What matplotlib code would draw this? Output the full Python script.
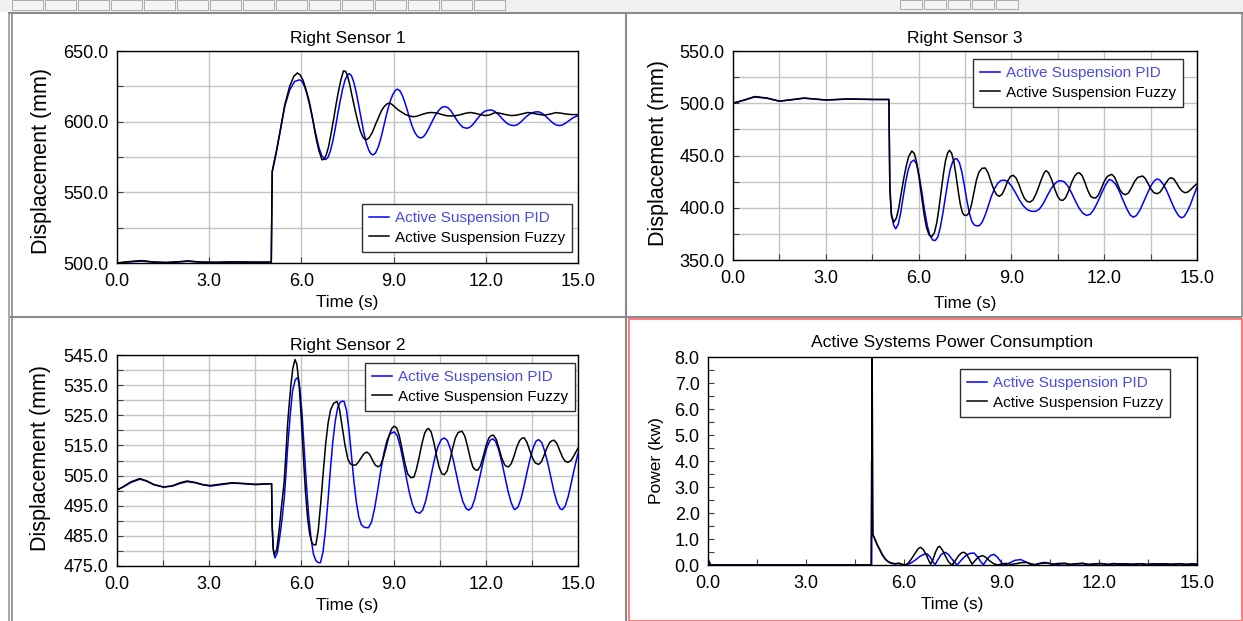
import matplotlib
matplotlib.use('Agg')
import matplotlib.pyplot as plt
from matplotlib.lines import Line2D
from matplotlib.patches import Rectangle
from matplotlib.ticker import MultipleLocator, FormatStrFormatter

# ---------------- data (time s, value) ----------------
labels = ["Active Suspension PID", "Active Suspension Fuzzy"]
titles = ["Right Sensor 1", "Right Sensor 3", "Right Sensor 2", "Active Systems Power Consumption"]

rs1_pid = [(0.0, 500.0), (0.4, 500.8), (0.8, 501.4), (1.2, 500.6), (1.6, 500.3), (2.0, 500.7), (2.3, 501.5),
           (2.7, 500.6), (3.2, 500.4), (3.8, 500.7), (4.4, 500.6), (5.02, 500.6), (5.05, 564.0), (5.19, 579.0),
           (5.30, 592.0), (5.46, 611.0), (5.62, 622.5), (5.78, 628.5), (5.94, 629.6), (6.02, 628.5), (6.10, 625.0),
           (6.18, 619.5), (6.26, 612.5), (6.34, 604.5), (6.42, 596.0), (6.50, 588.0), (6.58, 581.0), (6.66, 576.0),
           (6.78, 573.2), (6.86, 574.5), (6.94, 579.0), (7.02, 586.0), (7.10, 595.0), (7.18, 605.0), (7.26, 614.5),
           (7.34, 623.0), (7.42, 629.5), (7.50, 633.0), (7.56, 634.0), (7.63, 632.5), (7.71, 627.5), (7.79, 620.0),
           (7.87, 611.0), (7.95, 601.5), (8.03, 592.5), (8.11, 585.0), (8.19, 580.0), (8.26, 577.3), (8.33, 576.5),
           (8.41, 577.8), (8.49, 581.5), (8.57, 587.0), (8.65, 594.0), (8.73, 601.5), (8.81, 608.5), (8.89, 614.5),
           (8.97, 619.0), (9.05, 622.0), (9.12, 623.0), (9.20, 622.0), (9.28, 618.8), (9.36, 614.0), (9.44, 608.5),
           (9.52, 602.5), (9.60, 597.0), (9.68, 592.8), (9.76, 590.0), (9.83, 588.8), (9.89, 588.5), (9.97, 589.3),
           (10.05, 591.5), (10.15, 595.5), (10.25, 600.0), (10.35, 604.2), (10.45, 607.5), (10.55, 609.8),
           (10.62, 610.5), (10.68, 610.6), (10.76, 610.0), (10.86, 607.8), (10.96, 604.5), (11.06, 601.0),
           (11.16, 598.0), (11.26, 596.0), (11.38, 595.3), (11.48, 596.0), (11.58, 598.0), (11.68, 600.8),
           (11.78, 603.5), (11.88, 606.0), (11.98, 607.5), (12.08, 608.1), (12.19, 608.2), (12.29, 607.3),
           (12.39, 605.5), (12.49, 603.2), (12.59, 600.8), (12.69, 598.8), (12.80, 597.6), (12.92, 597.2),
           (13.02, 597.8), (13.12, 599.4), (13.22, 601.5), (13.32, 603.6), (13.42, 605.3), (13.52, 606.4),
           (13.62, 606.9), (13.70, 607.0), (13.80, 606.3), (13.90, 604.8), (14.00, 602.8), (14.10, 600.7),
           (14.20, 598.8), (14.30, 597.6), (14.40, 597.2), (14.50, 597.7), (14.60, 599.0), (14.70, 600.6),
           (14.80, 602.2), (14.90, 603.4), (15.00, 604.2)]

rs1_fuzzy = [(0.0, 500.0), (0.4, 501.0), (0.8, 501.7), (1.2, 500.7), (1.6, 500.4), (2.0, 500.9), (2.3, 501.3),
             (2.7, 500.7), (3.2, 500.5), (3.8, 500.8), (4.4, 500.6), (5.02, 500.6), (5.05, 565.0), (5.19, 579.5),
             (5.30, 592.5), (5.46, 612.0), (5.62, 625.0), (5.75, 632.0), (5.87, 634.5), (5.96, 633.0),
             (6.05, 629.5), (6.16, 622.0), (6.26, 614.0), (6.35, 604.0), (6.43, 594.0), (6.50, 586.0),
             (6.57, 579.5), (6.67, 573.0), (6.74, 573.5), (6.80, 576.0), (6.88, 582.0), (6.96, 591.0),
             (7.05, 602.0), (7.13, 612.5), (7.21, 622.0), (7.29, 630.0), (7.37, 636.0), (7.44, 635.5),
             (7.50, 632.5), (7.58, 625.5), (7.66, 617.0), (7.75, 608.0), (7.83, 600.5), (7.91, 594.0),
             (7.99, 589.5), (8.06, 587.5), (8.12, 587.3), (8.20, 588.5), (8.31, 592.5), (8.42, 598.5),
             (8.53, 604.0), (8.61, 608.0), (8.69, 610.6), (8.78, 612.5), (8.87, 613.2), (8.96, 612.0),
             (9.06, 610.0), (9.17, 608.0), (9.28, 606.5), (9.39, 605.0), (9.50, 604.2), (9.62, 603.5),
             (9.75, 603.8), (9.88, 604.8), (9.98, 605.5), (10.10, 606.2), (10.22, 606.5), (10.34, 606.3),
             (10.46, 605.8), (10.58, 605.0), (10.70, 604.3), (10.85, 604.0), (11.00, 604.2), (11.15, 604.8),
             (11.33, 605.9), (11.50, 606.5), (11.66, 605.9), (11.82, 605.0), (11.97, 604.3), (12.13, 604.8),
             (12.30, 606.4), (12.45, 606.0), (12.60, 605.2), (12.83, 604.3), (13.00, 604.6), (13.18, 605.5),
             (13.37, 606.5), (13.52, 606.0), (13.70, 605.2), (13.91, 604.6), (14.10, 605.4), (14.28, 606.4),
             (14.45, 606.0), (14.61, 605.4), (14.80, 605.0), (15.00, 605.0)]

rs3_pid = [(0.0, 500.0), (0.35, 502.8), (0.7, 506.0), (1.1, 504.8), (1.5, 502.0), (1.9, 503.3), (2.3, 504.8),
           (2.65, 504.0), (3.0, 503.0), (3.35, 503.5), (3.7, 504.0), (4.2, 503.8), (4.6, 503.6), (5.04, 503.6),
           (5.07, 420.0), (5.12, 395.0), (5.19, 383.5), (5.26, 379.9), (5.34, 384.0), (5.42, 395.0), (5.50, 410.0),
           (5.58, 424.5), (5.66, 436.0), (5.75, 443.5), (5.85, 445.7), (5.93, 442.0), (6.01, 432.0), (6.10, 416.0),
           (6.19, 398.0), (6.28, 383.0), (6.37, 373.0), (6.46, 369.0), (6.54, 368.7), (6.62, 372.0), (6.70, 381.0),
           (6.78, 394.0), (6.86, 409.0), (6.94, 424.0), (7.02, 436.5), (7.10, 444.0), (7.18, 446.8), (7.24, 446.8),
           (7.32, 443.0), (7.40, 434.0), (7.48, 421.0), (7.56, 407.0), (7.64, 395.0), (7.72, 387.0), (7.80, 383.5),
           (7.88, 382.6), (7.97, 383.0), (8.06, 386.5), (8.16, 393.5), (8.26, 402.5), (8.36, 411.5), (8.46, 418.5),
           (8.56, 423.5), (8.66, 426.0), (8.77, 426.5), (8.88, 425.0), (9.00, 421.0), (9.12, 415.0), (9.25, 408.0),
           (9.38, 402.0), (9.50, 398.5), (9.63, 396.7), (9.77, 396.5), (9.90, 398.5), (10.03, 404.0),
           (10.16, 411.5), (10.29, 418.5), (10.42, 423.5), (10.52, 425.5), (10.60, 425.9), (10.70, 425.0),
           (10.82, 421.0), (10.94, 414.5), (11.06, 407.0), (11.18, 400.0), (11.30, 395.0), (11.43, 392.6),
           (11.55, 393.8), (11.67, 398.5), (11.79, 405.5), (11.91, 413.5), (12.03, 421.0), (12.12, 425.5),
           (12.17, 427.0), (12.26, 426.0), (12.38, 422.0), (12.50, 415.0), (12.62, 406.5), (12.74, 398.5),
           (12.84, 393.0), (12.94, 391.0), (13.04, 392.5), (13.16, 398.0), (13.28, 406.0), (13.40, 414.0),
           (13.52, 421.5), (13.62, 425.8), (13.71, 427.6), (13.80, 426.5), (13.92, 422.0), (14.04, 415.0),
           (14.16, 406.5), (14.28, 398.5), (14.40, 392.5), (14.49, 390.4), (14.58, 391.5), (14.68, 396.0),
           (14.78, 402.5), (14.88, 410.5), (15.00, 419.8)]

rs3_fuzzy = [(0.0, 500.0), (0.35, 503.0), (0.7, 506.4), (1.1, 505.0), (1.5, 502.0), (1.9, 503.5), (2.3, 505.0),
             (2.65, 504.0), (3.0, 503.2), (3.35, 503.6), (3.7, 504.2), (4.2, 503.8), (4.6, 503.6), (5.04, 503.6),
             (5.07, 420.0), (5.12, 392.0), (5.20, 386.3), (5.28, 390.0), (5.36, 400.0), (5.44, 414.0),
             (5.52, 428.0), (5.60, 440.0), (5.68, 449.0), (5.78, 454.3), (5.86, 452.0), (5.94, 443.0),
             (6.02, 428.0), (6.10, 410.0), (6.18, 393.0), (6.26, 380.5), (6.34, 374.0), (6.43, 372.5),
             (6.51, 376.0), (6.59, 386.0), (6.66, 400.0), (6.73, 416.0), (6.80, 432.0), (6.87, 445.0),
             (6.94, 452.5), (7.00, 455.0), (7.07, 452.0), (7.14, 444.0), (7.21, 431.0), (7.28, 416.0),
             (7.35, 403.0), (7.42, 395.0), (7.48, 392.8), (7.55, 392.6), (7.63, 395.0), (7.71, 403.0),
             (7.79, 415.0), (7.87, 426.5), (7.95, 434.0), (8.05, 437.8), (8.16, 438.0), (8.25, 433.0),
             (8.34, 425.0), (8.43, 417.5), (8.52, 412.5), (8.61, 410.9), (8.70, 413.0), (8.79, 418.5),
             (8.88, 425.5), (8.97, 430.0), (9.06, 431.0), (9.15, 428.5), (9.24, 422.5), (9.33, 415.0),
             (9.42, 409.0), (9.51, 406.0), (9.60, 405.4), (9.70, 407.5), (9.80, 413.5), (9.90, 421.5),
             (10.00, 429.5), (10.06, 433.5), (10.12, 435.5), (10.20, 433.5), (10.30, 427.0), (10.40, 418.0),
             (10.50, 410.5), (10.58, 407.5), (10.66, 407.0), (10.75, 409.5), (10.85, 416.0), (10.95, 424.5),
             (11.05, 430.5), (11.13, 433.0), (11.20, 433.5), (11.29, 430.5), (11.38, 424.0), (11.47, 416.5),
             (11.56, 411.0), (11.64, 409.5), (11.72, 409.3), (11.81, 412.0), (11.90, 418.0), (12.00, 425.0),
             (12.10, 430.0), (12.24, 432.0), (12.33, 429.5), (12.42, 423.5), (12.51, 417.0), (12.60, 413.5),
             (12.69, 412.5), (12.78, 414.0), (12.88, 419.0), (12.98, 425.0), (13.08, 429.0), (13.24, 430.4),
             (13.33, 428.0), (13.42, 423.0), (13.51, 418.0), (13.60, 414.5), (13.71, 413.4), (13.80, 414.8),
             (13.90, 419.0), (14.00, 424.0), (14.08, 427.3), (14.16, 428.8), (14.25, 427.5), (14.34, 423.5),
             (14.43, 419.0), (14.52, 415.8), (14.61, 414.4), (14.70, 415.0), (14.80, 417.5), (14.90, 420.5),
             (15.00, 423.0)]

rs2_pid = [(0.0, 500.2), (0.2, 501.2), (0.45, 502.7), (0.74, 503.8), (0.95, 503.2), (1.2, 502.0), (1.51, 501.2),
           (1.8, 501.5), (2.05, 502.4), (2.28, 503.0), (2.55, 502.6), (2.8, 501.9), (3.04, 501.5), (3.4, 502.0),
           (3.75, 502.5), (4.1, 502.3), (4.5, 502.0), (5.03, 502.3), (5.05, 488.0), (5.09, 480.0), (5.14, 477.7),
           (5.22, 479.5), (5.30, 485.0), (5.37, 490.5), (5.44, 497.4), (5.50, 506.0), (5.55, 514.0), (5.63, 524.5),
           (5.71, 533.0), (5.80, 536.8), (5.88, 537.5), (5.95, 534.0), (6.02, 525.5), (6.09, 514.0), (6.16, 502.5),
           (6.23, 492.5), (6.31, 484.5), (6.39, 479.0), (6.47, 476.8), (6.55, 476.1), (6.62, 476.1), (6.70, 479.5),
           (6.78, 486.5), (6.86, 496.0), (6.94, 506.5), (7.02, 516.0), (7.10, 523.0), (7.18, 527.5), (7.26, 529.3),
           (7.33, 529.7), (7.39, 529.6), (7.47, 526.5), (7.55, 520.0), (7.63, 511.5), (7.71, 503.0), (7.79, 496.0),
           (7.87, 491.2), (7.95, 488.7), (8.05, 487.8), (8.18, 487.7), (8.28, 489.5), (8.38, 494.0), (8.48, 500.0),
           (8.58, 506.5), (8.68, 512.3), (8.78, 516.5), (8.88, 518.8), (9.02, 519.5), (9.12, 518.2), (9.22, 514.5),
           (9.32, 509.5), (9.42, 504.0), (9.52, 499.0), (9.62, 495.2), (9.72, 493.0), (9.85, 492.5), (9.95, 493.6),
           (10.05, 496.8), (10.15, 501.5), (10.25, 506.5), (10.35, 511.3), (10.45, 514.8), (10.55, 516.9),
           (10.65, 517.5), (10.75, 516.6), (10.85, 513.8), (10.95, 509.8), (11.05, 505.0), (11.15, 500.3),
           (11.25, 496.5), (11.35, 494.2), (11.44, 493.5), (11.54, 494.3), (11.64, 497.2), (11.74, 501.5),
           (11.84, 506.2), (11.94, 510.8), (12.04, 514.5), (12.14, 516.7), (12.23, 517.2), (12.32, 516.3),
           (12.42, 513.5), (12.52, 509.5), (12.62, 504.8), (12.72, 500.0), (12.82, 496.2), (12.90, 494.2),
           (12.95, 493.7), (13.05, 494.6), (13.15, 497.5), (13.25, 501.8), (13.35, 506.5), (13.45, 511.0),
           (13.55, 514.5), (13.64, 516.5), (13.72, 516.9), (13.82, 516.0), (13.92, 513.0), (14.02, 509.0),
           (14.12, 504.3), (14.22, 499.6), (14.32, 496.0), (14.42, 494.0), (14.49, 493.7), (14.58, 494.8),
           (14.68, 498.0), (14.78, 502.5), (14.88, 507.2), (15.00, 512.4)]

rs2_fuzzy = [(0.0, 500.2), (0.2, 501.3), (0.45, 502.9), (0.74, 504.0), (0.95, 503.3), (1.2, 502.0), (1.51, 501.2),
             (1.8, 501.6), (2.05, 502.6), (2.28, 503.2), (2.55, 502.7), (2.8, 502.0), (3.04, 501.7), (3.4, 502.2),
             (3.75, 502.6), (4.1, 502.4), (4.5, 502.1), (5.03, 502.3), (5.05, 488.0), (5.08, 481.0),
             (5.12, 478.8), (5.20, 480.5), (5.28, 487.4), (5.36, 495.5), (5.44, 503.0), (5.50, 513.0),
             (5.55, 522.0), (5.61, 529.5), (5.66, 535.2), (5.72, 540.5), (5.79, 543.5), (5.85, 542.0),
             (5.92, 536.0), (5.99, 525.0), (6.06, 512.0), (6.13, 500.0), (6.20, 491.0), (6.27, 485.5),
             (6.35, 482.5), (6.42, 482.0), (6.47, 482.0), (6.55, 487.0), (6.63, 496.0), (6.71, 506.0),
             (6.79, 515.5), (6.87, 522.5), (6.95, 526.8), (7.05, 529.0), (7.16, 529.6), (7.24, 527.0),
             (7.33, 521.0), (7.42, 515.0), (7.51, 510.5), (7.60, 508.8), (7.68, 508.5), (7.77, 508.5),
             (7.86, 509.5), (7.95, 511.0), (8.04, 512.3), (8.13, 512.8), (8.22, 512.0), (8.31, 510.2),
             (8.40, 508.5), (8.50, 507.9), (8.58, 508.5), (8.67, 511.0), (8.76, 514.5), (8.85, 518.2),
             (8.94, 520.6), (9.02, 521.4), (9.10, 520.8), (9.19, 518.0), (9.28, 513.5), (9.37, 509.0),
             (9.46, 505.5), (9.56, 504.3), (9.66, 504.5), (9.74, 507.0), (9.83, 511.0), (9.92, 515.5),
             (10.01, 519.0), (10.08, 520.3), (10.14, 520.6), (10.22, 519.5), (10.31, 516.0), (10.40, 511.5),
             (10.48, 507.8), (10.57, 505.6), (10.65, 505.3), (10.74, 506.5), (10.83, 510.0), (10.92, 514.0),
             (11.01, 517.5), (11.10, 519.3), (11.23, 519.7), (11.32, 518.0), (11.41, 514.5), (11.50, 510.5),
             (11.58, 507.8), (11.66, 506.9), (11.74, 506.8), (11.83, 508.3), (11.92, 511.5), (12.01, 515.0),
             (12.10, 517.5), (12.18, 518.3), (12.25, 518.4), (12.34, 517.0), (12.43, 514.0), (12.52, 510.8),
             (12.61, 508.6), (12.68, 508.0), (12.74, 507.9), (12.83, 509.0), (12.92, 511.5), (13.01, 514.5),
             (13.10, 516.6), (13.18, 517.4), (13.25, 517.5), (13.34, 516.0), (13.43, 513.3), (13.52, 510.8),
             (13.61, 509.2), (13.72, 508.7), (13.81, 509.6), (13.90, 511.8), (13.99, 514.2), (14.08, 516.0),
             (14.16, 516.6), (14.23, 516.7), (14.32, 515.5), (14.41, 513.2), (14.50, 511.0), (14.59, 509.7),
             (14.68, 509.4), (14.77, 510.0), (14.86, 511.5), (14.93, 512.8), (15.00, 514.1)]

pw_pid = [(0.0, 0.08), (0.05, 0.03), (0.1, 0.0), (5.0, 0.0), (5.02, 4.0), (5.045, 1.2), (5.10, 1.05), (5.18, 0.8),
          (5.26, 0.6), (5.35, 0.38), (5.44, 0.22), (5.53, 0.12), (5.63, 0.06), (5.75, 0.04), (5.85, 0.06),
          (5.95, 0.02), (6.05, 0.0), (6.2, 0.06), (6.35, 0.18), (6.5, 0.33), (6.62, 0.41), (6.72, 0.43),
          (6.82, 0.3), (6.92, 0.08), (6.97, 0.02), (7.05, 0.2), (7.15, 0.4), (7.27, 0.49), (7.38, 0.4),
          (7.5, 0.2), (7.64, 0.0), (7.78, 0.2), (7.92, 0.38), (8.05, 0.45), (8.16, 0.46), (8.28, 0.3),
          (8.38, 0.1), (8.45, 0.02), (8.55, 0.2), (8.66, 0.36), (8.77, 0.41), (8.88, 0.3), (9.0, 0.1),
          (9.1, 0.0), (9.25, 0.08), (9.42, 0.18), (9.59, 0.21), (9.75, 0.12), (9.9, 0.02), (10.0, 0.0),
          (10.15, 0.06), (10.32, 0.1), (10.5, 0.06), (10.65, 0.01), (10.8, 0.04), (10.95, 0.05), (11.1, 0.02),
          (11.3, 0.04), (11.5, 0.05), (11.7, 0.02), (11.9, 0.04), (12.1, 0.05), (12.3, 0.02), (12.5, 0.04),
          (12.7, 0.05), (12.9, 0.02), (13.1, 0.04), (13.3, 0.05), (13.5, 0.02), (13.7, 0.04), (13.9, 0.05),
          (14.1, 0.02), (14.3, 0.04), (14.5, 0.05), (14.7, 0.02), (15.0, 0.03)]

pw_fuzzy = [(0.0, 0.18), (0.03, 0.15), (0.08, 0.02), (0.12, 0.0), (5.02, 0.0), (5.035, 7.95), (5.06, 1.15),
            (5.10, 1.05), (5.18, 0.82), (5.26, 0.62), (5.35, 0.4), (5.44, 0.23), (5.53, 0.13), (5.63, 0.07),
            (5.75, 0.05), (5.85, 0.07), (5.95, 0.03), (6.05, 0.0), (6.15, 0.08), (6.25, 0.25), (6.35, 0.45),
            (6.45, 0.63), (6.52, 0.68), (6.6, 0.6), (6.7, 0.38), (6.78, 0.15), (6.83, 0.03), (6.9, 0.2),
            (6.98, 0.5), (7.05, 0.68), (7.1, 0.72), (7.18, 0.6), (7.28, 0.35), (7.38, 0.12), (7.48, 0.0),
            (7.58, 0.15), (7.68, 0.35), (7.78, 0.47), (7.85, 0.49), (7.93, 0.42), (8.02, 0.22), (8.1, 0.03),
            (8.2, 0.18), (8.3, 0.31), (8.42, 0.36), (8.52, 0.3), (8.62, 0.18), (8.75, 0.06), (8.88, 0.0),
            (9.0, 0.04), (9.15, 0.06), (9.3, 0.02), (9.45, 0.05), (9.6, 0.09), (9.77, 0.1), (9.9, 0.05),
            (10.05, 0.01), (10.2, 0.06), (10.4, 0.08), (10.55, 0.03), (10.75, 0.06), (10.95, 0.07), (11.1, 0.02),
            (11.3, 0.05), (11.5, 0.07), (11.65, 0.02), (11.85, 0.04), (12.05, 0.06), (12.25, 0.02), (12.45, 0.06),
            (12.65, 0.02), (12.85, 0.05), (13.05, 0.02), (13.25, 0.05), (13.45, 0.02), (13.65, 0.05),
            (13.85, 0.02), (14.05, 0.05), (14.25, 0.02), (14.45, 0.05), (14.65, 0.02), (14.85, 0.05), (15.0, 0.03)]

# ---------------- figure ----------------
W, H = 1243, 621
plt.rcParams['font.family'] = ['Liberation Sans', 'DejaVu Sans']
fig = plt.figure(figsize=(W / 100, H / 100), dpi=100)
fig.patch.set_facecolor('white')


def fx(x):
    return x / W


def fy(y):
    return 1 - y / H


def line(x0, y0, x1, y1, color, lw):
    fig.add_artist(Line2D([fx(x0), fx(x1)], [fy(y0), fy(y1)], transform=fig.transFigure,
                          color=color, lw=lw, solid_capstyle='butt'))


# toolbar strip at top
fig.add_artist(Rectangle((0, fy(12)), 1, 12 / H, transform=fig.transFigure,
                         facecolor='#f0f0f0', edgecolor='none'))
for bx in range(12, 505, 33):
    fig.add_artist(Rectangle((fx(bx), fy(10)), 31 / W, 10 / H, transform=fig.transFigure,
                             facecolor='#f4f4f4', edgecolor='#a0a0a0', lw=0.6))
for bx in range(900, 1000, 24):
    fig.add_artist(Rectangle((fx(bx), fy(9)), 22 / W, 9 / H, transform=fig.transFigure,
                             facecolor='#f4f4f4', edgecolor='#a0a0a0', lw=0.6))

# panel frames
line(8, 13, 1243, 13, '#8a8a8a', 1.5)
line(8.5, 13, 8.5, 621, '#9a9a9a', 1.2)
line(11.5, 13, 11.5, 621, '#8a8a8a', 1.2)
line(626, 13, 626, 621, '#8a8a8a', 1.5)
line(10, 317, 1242, 317, '#8a8a8a', 1.5)
line(1242, 13, 1242, 317, '#8a8a8a', 1.2)
fig.add_artist(Rectangle((fx(628.5), fy(620.5)), (1241.5 - 628.5) / W, (620.5 - 319) / H,
                         transform=fig.transFigure, facecolor='none', edgecolor='#ff7070', lw=1.3))

BLUE = '#0000ff'
BLACK = '#000000'

panels = [
    dict(pid=rs1_pid, fz=rs1_fuzzy, box=(117, 51, 578, 263), ylim=(500, 650), ylabel='Displacement (mm)',
         leg=(572, 204), title=titles[0], tpad=6, xlpad=3, ylc=(-0.141, 0.48), ysize=15.5),
    dict(pid=rs3_pid, fz=rs3_fuzzy, box=(733, 51, 1197, 260), ylim=(350, 550), ylabel='Displacement (mm)',
         leg=(1183, 59), title=titles[1], tpad=6, xlpad=6, ylc=(-0.138, 0.51), ysize=15.5),
    dict(pid=rs2_pid, fz=rs2_fuzzy, box=(117, 355, 578, 566), ylim=(475, 545), ylabel='Displacement (mm)',
         leg=(575, 363), title=titles[2], tpad=3.5, xlpad=3, ylc=(-0.143, 0.51), ysize=15.5),
    dict(pid=pw_pid, fz=pw_fuzzy, box=(708, 357, 1197, 565), ylim=(0, 8), ylabel='Power (kw)',
         leg=(1170, 369), title=titles[3], tpad=7, xlpad=3, ylc=(-0.091, 0.5), ysize=12.5),
]

axes = []
for p in panels:
    l, t, r, b = p['box']
    ax = fig.add_axes([fx(l), fy(b), (r - l) / W, (b - t) / H])
    axes.append(ax)
    tp, vp = zip(*p['pid'])
    tf, vf = zip(*p['fz'])
    hp, = ax.plot(tp, vp, color=BLUE, lw=1.1)
    hf, = ax.plot(tf, vf, color=BLACK, lw=1.1)
    ax.set_xlim(0, 15)
    ax.set_ylim(*p['ylim'])
    ax.set_title(p['title'], fontsize=12.6, pad=p['tpad'])
    ax.set_xlabel('Time (s)', fontsize=12.3, labelpad=p['xlpad'])
    ax.set_ylabel(p['ylabel'], fontsize=p['ysize'])
    ax.yaxis.set_label_coords(*p['ylc'])
    ax.xaxis.set_major_locator(MultipleLocator(3))
    ax.xaxis.set_major_formatter(FormatStrFormatter('%.1f'))
    ax.yaxis.set_major_formatter(FormatStrFormatter('%.1f'))
    for s in ax.spines.values():
        s.set_color('#000000')
        s.set_linewidth(1.0)
    ax.tick_params(which='both', direction='in', length=4, width=0.8, color='#404040',
                   labelsize=13)
    ax.tick_params(axis='x', which='both', pad=7.5)
    ax.tick_params(axis='y', which='both', pad=6)
    ax.set_axisbelow(True)
    leg = ax.legend([hp, hf], labels, loc='upper right',
                    bbox_to_anchor=(fx(p['leg'][0]), fy(p['leg'][1])),
                    bbox_transform=fig.transFigure, frameon=True, fancybox=False, framealpha=1,
                    edgecolor='#303030', fontsize=11, handlelength=1.3, handletextpad=0.4,
                    borderpad=0.45, labelspacing=0.38, borderaxespad=0)
    leg.get_frame().set_linewidth(1.0)
    leg.texts[0].set_color('#4b4be6')

GRID = dict(color='#c4c4c4', lw=1.0)
# Right Sensor 1
a = axes[0]
a.yaxis.set_major_locator(MultipleLocator(50))
a.yaxis.set_minor_locator(MultipleLocator(25))
a.grid(True, which='major', axis='x', **GRID)
a.grid(True, which='both', axis='y', **GRID)
# Right Sensor 3
a = axes[1]
a.yaxis.set_major_locator(MultipleLocator(50))
a.yaxis.set_minor_locator(MultipleLocator(25))
a.xaxis.set_minor_locator(MultipleLocator(1.5))
a.grid(True, which='both', **GRID)
# Right Sensor 2
a = axes[2]
a.set_yticks([475, 485, 495, 505, 515, 525, 535, 545])
a.set_yticks([480, 490, 500, 510, 520, 530, 540], minor=True)
a.xaxis.set_minor_locator(MultipleLocator(1.5))
a.grid(True, which='both', **GRID)
# Power
a = axes[3]
a.yaxis.set_major_locator(MultipleLocator(1))
a.yaxis.set_minor_locator(MultipleLocator(0.5))
a.xaxis.set_minor_locator(MultipleLocator(1.5))

fig.savefig('out.png', dpi=100)
